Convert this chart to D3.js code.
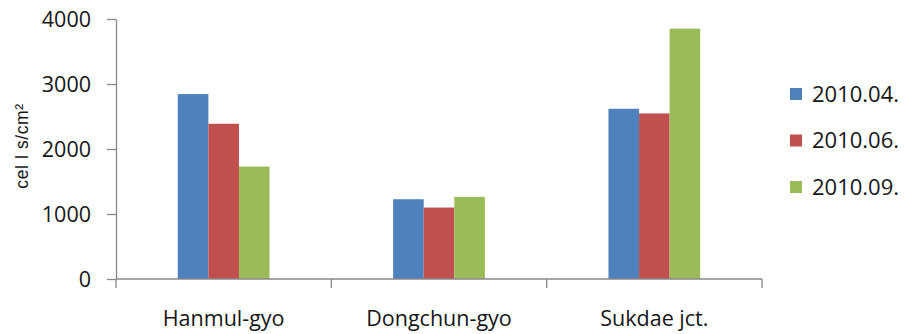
<!DOCTYPE html>
<html>
<head>
<meta charset="utf-8">
<script src="https://cdn.jsdelivr.net/npm/d3@7"></script>
<style>
  html, body { margin: 0; padding: 0; background: #fff; }
  svg { display: block; }
</style>
</head>
<body>
<svg id="chart" width="904" height="334"></svg>
<script>
// Sampling sites along the x axis
const categories = ["Hanmul-gyo", "Dongchun-gyo", "Sukdae jct."];
// Survey dates (one series each)
const seriesNames = ["2010.04.", "2010.06.", "2010.09."];
// Cell density per site, one array per survey
const apr2010 = [2845, 1227, 2619];
const jun2010 = [2388, 1099, 2547];
const sep2010 = [1730, 1264, 3852];
const seriesColors = ["#4F81BD", "#C0504D", "#9BBB59"];
const yTicks = [0, 1000, 2000, 3000, 4000];
const yTitle = "cel l s/cm²";

const series = [apr2010, jun2010, sep2010];

const svg = d3.select("#chart");
const font = "'Open Sans', sans-serif";
const textColor = "#161616";
const axisColor = "#888888";

const plot = { left: 116, right: 762, top: 19, bottom: 279 };

const x0 = d3.scaleBand().domain(categories).range([plot.left, plot.right]).padding(0);
const x1 = d3.scaleBand().domain(d3.range(seriesNames.length))
  .range([0, x0.bandwidth()]).paddingInner(0).paddingOuter(2.02);
const y = d3.scaleLinear().domain([0, 4000]).range([plot.bottom, plot.top]);

// Bars
const groups = svg.append("g").selectAll("g")
  .data(categories).join("g")
  .attr("transform", d => `translate(${x0(d)},0)`);

groups.selectAll("rect")
  .data((d, ci) => series.map((s, si) => ({ si, v: s[ci] })))
  .join("rect")
  .attr("x", d => x1(d.si))
  .attr("width", x1.bandwidth())
  .attr("y", d => y(d.v))
  .attr("height", d => y(0) - y(d.v))
  .attr("fill", d => seriesColors[d.si]);

// Y axis
const yAxis = svg.append("g")
  .attr("transform", `translate(${plot.left},0)`)
  .call(d3.axisLeft(y).tickValues(yTicks).tickFormat(d3.format("d"))
    .tickSize(9).tickPadding(16).tickSizeOuter(0));
yAxis.select(".domain").attr("stroke", axisColor).attr("stroke-width", 1.3);
yAxis.selectAll(".tick line").attr("stroke", axisColor).attr("stroke-width", 1.3);
yAxis.selectAll(".tick text")
  .attr("font-family", font).attr("font-size", 21.5).attr("fill", textColor)
  .attr("dy", "0.36em");

// X axis: baseline with category boundary ticks
const boundaries = categories.map(c => x0(c)).concat([x0.range()[1]]);
const xAxisG = svg.append("g").attr("transform", `translate(0,${plot.bottom})`);
xAxisG.append("line")
  .attr("x1", plot.left).attr("x2", plot.right)
  .attr("stroke", axisColor).attr("stroke-width", 1.3);
xAxisG.selectAll("line.bound").data(boundaries).join("line")
  .attr("class", "bound")
  .attr("x1", d => d).attr("x2", d => d)
  .attr("y1", 0).attr("y2", 9)
  .attr("stroke", axisColor).attr("stroke-width", 1.3);
xAxisG.selectAll("text").data(categories).join("text")
  .attr("x", d => x0(d) + x0.bandwidth() / 2)
  .attr("y", 47)
  .attr("text-anchor", "middle")
  .attr("font-family", font).attr("font-size", 21.5).attr("fill", textColor)
  .text(d => d);

// Y axis title
svg.append("text")
  .attr("transform", `translate(28,146) rotate(-90)`)
  .attr("text-anchor", "middle")
  .attr("font-family", "'Liberation Sans', Arial, sans-serif")
  .attr("font-size", 17.5)
  .attr("letter-spacing", 0.6)
  .attr("fill", textColor)
  .text(yTitle);

// Legend
const legend = svg.append("g").selectAll("g")
  .data(seriesNames).join("g")
  .attr("transform", (d, i) => `translate(790,${94 + i * 46.5})`);
legend.append("rect")
  .attr("x", 0).attr("y", -6).attr("width", 12).attr("height", 12)
  .attr("fill", (d, i) => seriesColors[i]);
legend.append("text")
  .attr("x", 22).attr("y", 0).attr("dy", "0.36em")
  .attr("font-family", font).attr("font-size", 22).attr("fill", textColor)
  .text(d => d);
</script>
</body>
</html>
